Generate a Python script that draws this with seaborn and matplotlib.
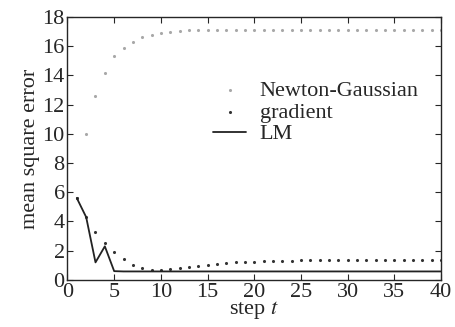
import numpy as np
import pandas as pd
import seaborn as sns
import matplotlib.pyplot as plt

steps = list(range(1, 41))
newton = [5.6, 10.0, 12.6, 14.2, 15.3, 15.9, 16.3, 16.6, 16.8, 16.9,
          17.0, 17.05, 17.1, 17.1, 17.1, 17.1, 17.1, 17.1, 17.1, 17.1,
          17.1, 17.1, 17.1, 17.1, 17.1, 17.1, 17.1, 17.1, 17.1, 17.1,
          17.1, 17.1, 17.1, 17.1, 17.1, 17.1, 17.1, 17.1, 17.1, 17.1]
gradient = [5.6, 4.3, 3.3, 2.55, 1.9, 1.4, 1.0, 0.8, 0.66, 0.66,
            0.73, 0.8, 0.9, 0.98, 1.05, 1.1, 1.16, 1.2, 1.23, 1.26,
            1.28, 1.3, 1.31, 1.32, 1.33, 1.34, 1.34, 1.35, 1.35, 1.36,
            1.36, 1.36, 1.37, 1.37, 1.37, 1.37, 1.37, 1.37, 1.37, 1.37]
lm = [5.6, 4.3, 1.2, 2.3, 0.6] + [0.58] * 35

df = pd.DataFrame({'step': steps, 'newton': newton, 'gradient': gradient, 'lm': lm})

sns.set_style('ticks')
plt.rcParams['font.family'] = ['Liberation Serif', 'DejaVu Serif']
plt.rcParams['font.size'] = 16
plt.rcParams['mathtext.fontset'] = 'stix'

fig = plt.figure(figsize=(4.56, 3.27), dpi=100)
ax = fig.add_axes([0.148, 0.144, 0.819, 0.804])

sns.scatterplot(data=df, x='step', y='newton', ax=ax, color='#a8a8a8', s=5,
                linewidth=0, label='Newton-Gaussian')
sns.scatterplot(data=df, x='step', y='gradient', ax=ax, color='#333333', s=5,
                linewidth=0, label='gradient')
sns.lineplot(data=df, x='step', y='lm', ax=ax, color='#222222', linewidth=1.3,
             label='LM')

ax.set_xlim(0, 40)
ax.set_ylim(0, 18)
ax.set_xticks(range(0, 41, 5))
ax.set_yticks(range(0, 19, 2))
ax.tick_params(direction='in', top=True, right=True, length=4, width=0.8,
               labelsize=16, pad=2)
for sp in ax.spines.values():
    sp.set_linewidth(1.0)
ax.set_xlabel('step $t$', fontsize=16, labelpad=-2)
ax.set_ylabel('mean square error', fontsize=16, labelpad=2)

leg = ax.legend(loc='center left', bbox_to_anchor=(0.36, 0.637), frameon=False,
                fontsize=16, handlelength=1.5, handletextpad=0.6,
                labelspacing=0.05, borderpad=0, markerscale=1.0)

fig.savefig('out.png', dpi=100)
